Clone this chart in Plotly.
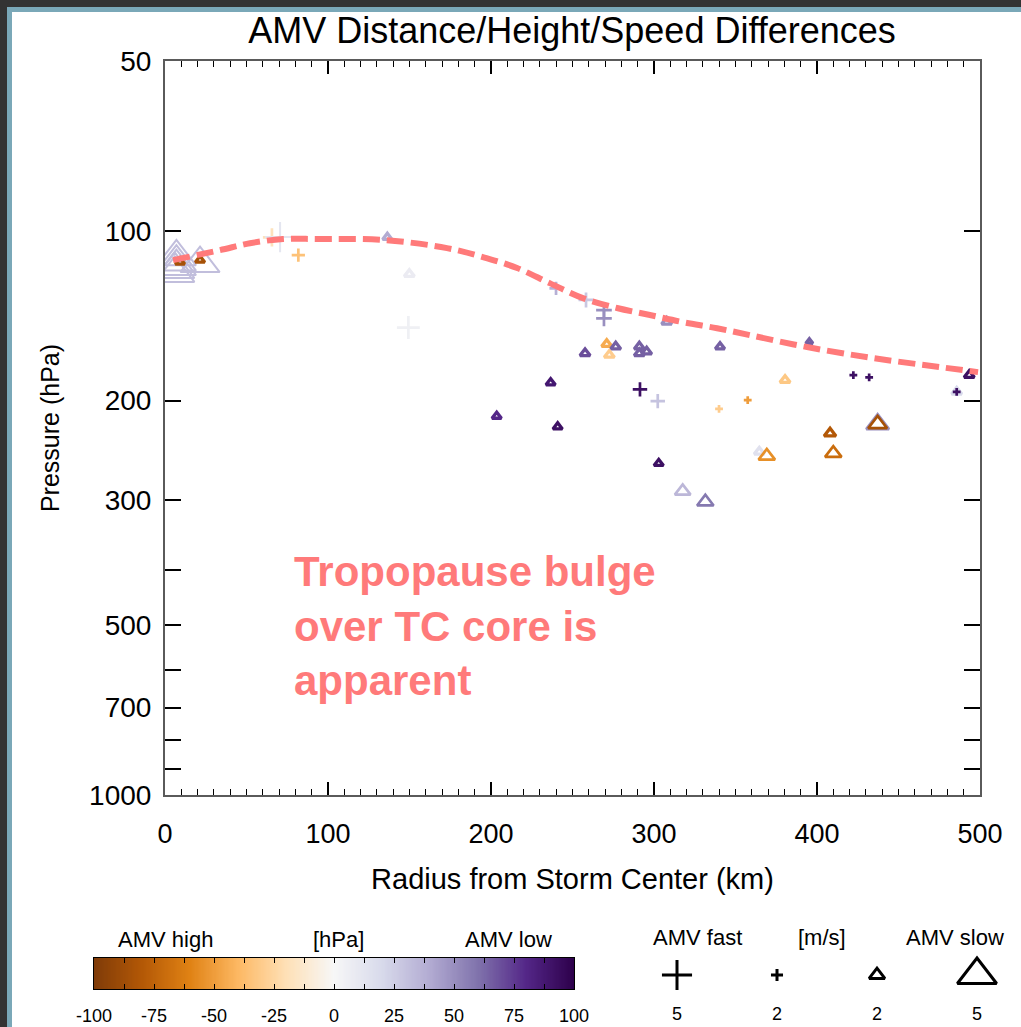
import numpy as np
import plotly.graph_objects as go

# ---------------- data ----------------
# Tropopause (dashed curve)
tropo_radius = [4.9, 33.7, 52.1, 72.4, 93.3, 133.7, 173.0, 195.0, 216.0, 236.0,
                256.4, 277.3, 297.5, 317.8, 338.7, 358.9, 393.9, 434.4, 475.5, 498.8]
tropo_pressure = [112.7, 108.2, 105.2, 103.4, 103.4, 103.8, 107.3, 111.3, 116.4, 123.8,
                  131.6, 137.0, 141.0, 145.2, 148.8, 153.1, 160.7, 168.1, 174.4, 178.0]

# AMVs: radius (km), pressure (hPa), height difference (hPa), speed difference (m/s, + fast / - slow)
amv_radius = [7.0, 7.0, 7.0, 6.0, 6.0, 21.5, 9.2, 21.5, 65.6, 70.6,
              81.8, 136.4, 149.9, 149.3, 239.9, 258.3, 269.3, 269.3, 307.8, 257.7,
              271.0, 276.5, 272.6, 291.0, 291.0, 295.5, 340.5, 236.6, 203.5, 240.9,
              291.4, 302.3, 339.9, 357.5, 302.9, 317.6, 331.5, 395.3, 380.4, 422.3,
              432.0, 493.4, 485.7, 485.7, 437.2, 437.2, 408.0, 410.0, 364.6, 369.2]
amv_pressure = [111.2, 113.6, 115.7, 117.1, 119.0, 114.3, 113.6, 112.7, 102.7, 102.6,
                110.4, 102.7, 119.3, 148.4, 126.5, 132.6, 138.2, 142.9, 145.0, 164.9,
                158.8, 160.5, 166.0, 160.5, 164.9, 163.8, 160.5, 185.9, 213.1, 222.6,
                191.0, 200.4, 206.8, 199.6, 258.4, 289.4, 302.3, 157.3, 183.9, 180.2,
                181.9, 180.2, 192.9, 192.9, 220.1, 220.1, 228.6, 248.0, 246.5, 250.8]
amv_height_diff = [32, 32, 32, 32, 32, 32, -85, -85, -18, 12,
                   -35, 40, 8, 5, 38, 28, 50, 50, 50, 70,
                   -45, 65, -30, 65, 65, 65, 65, 88, 80, 92,
                   92, 30, -30, -50, 92, 35, 58, 65, -32, 92,
                   92, 92, 20, 92, 50, -85, -80, -70, 15, -55]
amv_speed_diff = [-5, -5, -5, -5, -5, -5, -1.2, -1.2, 3, 5,
                  2.2, -1.2, -1.3, 3.8, 2.2, 2.5, 2.6, 2.6, -1.3, -1.3,
                  -1.3, -1.3, -1.3, -1.3, -1.3, -1.3, -1.2, -1.2, -1.2, -1.2,
                  2.4, 2.4, 1.3, 1.3, -1.2, -2.0, -2.1, -0.9, -1.3, 1.3,
                  1.3, -1.3, -1.3, 1.3, -2.9, -2.4, -1.5, -2.1, -1.3, -2.1]

# axes tick labels
x_ticks = [0, 100, 200, 300, 400, 500]
p_ticks = [50, 100, 200, 300, 400, 500, 600, 700, 800, 900, 1000]
p_labels = ['50', '100', '200', '300', '', '500', '', '700', '', '', '1000']

# colour-bar ticks
cbar_ticks = [-100, -87.5, -75, -62.5, -50, -37.5, -25, -12.5, 0, 12.5, 25, 37.5, 50, 62.5, 75, 87.5, 100]
cbar_labels = ['-100', '', '-75', '', '-50', '', '-25', '', '0', '', '25', '', '50', '', '75', '', '100']

# size key
key_names = ['fast5', 'fast2', 'slow2', 'slow5']
key_speed = [5, 2, -2, -5]
key_labels = ['5', '2', '2', '5']

# ---------------- styling ----------------
W, H = 1021, 1027
FONT = 'Liberation Sans, Arial, Helvetica, sans-serif'
PUOR = [[0.0, 'rgb(127,59,8)'], [0.1, 'rgb(179,88,6)'], [0.2, 'rgb(224,130,20)'],
        [0.3, 'rgb(253,184,99)'], [0.4, 'rgb(254,224,182)'], [0.5, 'rgb(247,247,247)'],
        [0.6, 'rgb(216,218,235)'], [0.7, 'rgb(178,171,210)'], [0.8, 'rgb(128,115,172)'],
        [0.9, 'rgb(84,39,136)'], [1.0, 'rgb(45,0,75)']]
K_TRI, K_PLUS = 6.8, 4.3


def px_x(p):
    return p / W


def px_y(p):
    return 1 - p / H


def symbols(speeds):
    return ['cross-thin-open' if s > 0 else 'triangle-up-open' for s in speeds]


def sizes(speeds):
    return [(K_PLUS if s > 0 else K_TRI) * abs(s) for s in speeds]


def widths(speeds):
    out = []
    for s in speeds:
        if abs(s) >= 4:
            out.append(2.0)
        elif s < 0 and abs(s) < 1.6:
            out.append(3.3)
        else:
            out.append(2.7)
    return out


fig = go.Figure()

# AMV points
fig.add_trace(go.Scatter(
    x=amv_radius, y=amv_pressure, mode='markers',
    marker=dict(symbol=symbols(amv_speed_diff), size=sizes(amv_speed_diff), opacity=1,
                color=amv_height_diff, colorscale=PUOR, cmin=-100, cmax=100,
                line=dict(color=amv_height_diff, colorscale=PUOR, cmin=-100, cmax=100,
                          width=widths(amv_speed_diff))),
    showlegend=False, hoverinfo='x+y'))

# Tropopause curve
fig.add_trace(go.Scatter(
    x=tropo_radius, y=tropo_pressure, mode='lines',
    line=dict(color='rgb(255,122,122)', width=6, dash='17px,7px', shape='spline'),
    showlegend=False))

# colour bar as heat strip
cb_vals = np.linspace(-100, 100, 401)
fig.add_trace(go.Heatmap(x=cb_vals, y=[0], z=[cb_vals], colorscale=PUOR, zmin=-100, zmax=100,
                         showscale=False, xaxis='x2', yaxis='y2', hoverinfo='skip'))

# size key
fig.add_trace(go.Scatter(
    x=key_names, y=[0] * len(key_names), mode='markers', xaxis='x3', yaxis='y3',
    marker=dict(symbol=symbols(key_speed), size=sizes(key_speed), color='black', opacity=1,
                line=dict(color='black', width=3)),
    showlegend=False, hoverinfo='skip'))

axis_line = 'rgb(90,90,90)'
fig.update_layout(
    width=W, height=H, template='none',
    margin=dict(l=0, r=0, t=0, b=0),
    paper_bgcolor='white', plot_bgcolor='white',
    font=dict(family=FONT, color='black'),
    title=dict(text='AMV Distance/Height/Speed Differences', x=px_x(572), y=px_y(30),
               xanchor='center', yanchor='middle', xref='paper', yref='paper',
               font=dict(size=36, family=FONT)),
    xaxis=dict(domain=[px_x(165), px_x(980)], range=[0, 500], tickvals=x_ticks,
               ticks='inside', ticklen=13, tickwidth=1.5, tickcolor='black',
               minor=dict(dtick=10, ticks='inside', ticklen=6, tickwidth=1.2, tickcolor='black'),
               showline=True, linecolor=axis_line, linewidth=2, mirror='allticks',
               showgrid=False, zeroline=False, ticklabelstandoff=14,
               tickfont=dict(size=27),
               title=dict(text='Radius from Storm Center (km)', font=dict(size=29), standoff=20)),
    yaxis=dict(domain=[px_y(795), px_y(61)], type='log', range=[3, np.log10(50)],
               tickvals=p_ticks, ticktext=p_labels,
               ticks='inside', ticklen=16, tickwidth=1.5, tickcolor='black',
               showline=True, linecolor=axis_line, linewidth=2, mirror='allticks',
               showgrid=False, zeroline=False, ticklabelstandoff=6,
               tickfont=dict(size=28),
               title=dict(text='Pressure (hPa)', font=dict(size=25), standoff=22)),
    xaxis2=dict(domain=[px_x(94), px_x(574)], range=[-100, 100], anchor='y2',
                tickvals=cbar_ticks, ticktext=cbar_labels, ticks='inside', ticklen=5,
                tickcolor='black', showline=True, linecolor='black', linewidth=1,
                mirror='allticks', showgrid=False, zeroline=False,
                ticklabelstandoff=10, tickfont=dict(size=18)),
    yaxis2=dict(domain=[px_y(989), px_y(958)], range=[-0.5, 0.5], anchor='x2',
                showticklabels=False, ticks='', showline=True, linecolor='black',
                linewidth=1, mirror=True, showgrid=False, zeroline=False),
    xaxis3=dict(domain=[px_x(627), px_x(1017)], range=[-0.5, 3.4], anchor='y3',
                type='category', tickvals=key_names, ticktext=key_labels,
                showline=False, ticks='', showgrid=False, zeroline=False,
                ticklabelstandoff=6, tickfont=dict(size=18)),
    yaxis3=dict(domain=[px_y(995), px_y(955)], range=[-0.5, 0.5], anchor='x3',
                showticklabels=False, ticks='', showline=False, showgrid=False,
                zeroline=False),
)

# texts
notes = [
    ('AMV high', 165, 939), ('[hPa]', 338, 939), ('AMV low', 508, 939),
    ('AMV fast', 697, 937), ('[m/s]', 822, 937), ('AMV slow', 955, 937),
]
for txt, xx, yy in notes:
    fig.add_annotation(text=txt, x=px_x(xx), y=px_y(yy), xref='paper', yref='paper',
                       showarrow=False, xanchor='center', yanchor='middle',
                       font=dict(size=22, family=FONT, color='black'))

fig.add_annotation(text='Tropopause bulge<br>over TC core is<br>apparent',
                   x=px_x(292), y=px_y(626), xref='paper', yref='paper', showarrow=False,
                   xanchor='left', yanchor='middle', align='left',
                   font=dict(size=42, family=FONT, color='rgb(255,122,122)', weight='bold'))

# window frame
dark, teal = 'rgb(51,51,51)', 'rgb(122,168,184)'
fig.add_shape(type='rect', xref='paper', yref='paper', x0=0, x1=px_x(7), y0=0, y1=1,
              fillcolor=dark, line_width=0)
fig.add_shape(type='rect', xref='paper', yref='paper', x0=0, x1=1, y0=px_y(7), y1=1,
              fillcolor=dark, line_width=0)
fig.add_shape(type='rect', xref='paper', yref='paper', x0=px_x(7), x1=px_x(12), y0=0, y1=px_y(7),
              fillcolor=teal, line_width=0)
fig.add_shape(type='rect', xref='paper', yref='paper', x0=px_x(7), x1=1, y0=px_y(12), y1=px_y(7),
              fillcolor=teal, line_width=0)

fig.write_html('out.html')
